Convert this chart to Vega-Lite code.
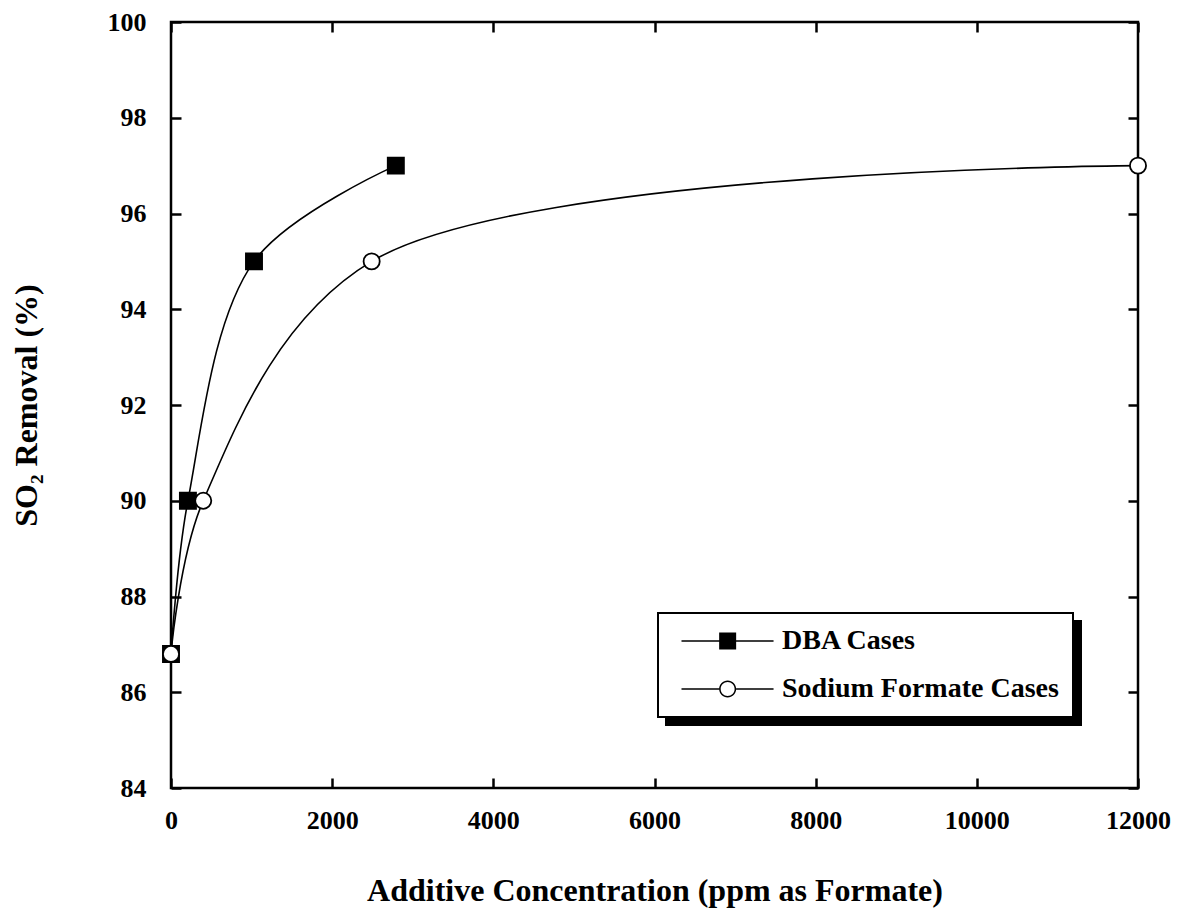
{
  "$schema": "https://vega.github.io/schema/vega-lite/v6.json",
  "autosize": "none",
  "width": 967,
  "height": 766,
  "padding": {"left": 171, "top": 22, "right": 44, "bottom": 123},
  "background": "white",
  "config": {
    "view": {"stroke": "black", "strokeWidth": 2.5},
    "legend": {"strokeWidth": 2},
    "axis": {
      "grid": false,
      "domain": false,
      "tickColor": "black",
      "tickWidth": 2.5,
      "tickSize": -10,
      "labelFont": "Liberation Serif",
      "labelFontWeight": "bold",
      "labelFontSize": 26,
      "labelColor": "black",
      "labelFlush": false,
      "titleFont": "Liberation Serif",
      "titleFontWeight": "bold",
      "titleFontSize": 32,
      "titleColor": "black"
    }
  },
  "data": {
    "values": [
      {"series": "DBA Cases", "ppm": 0, "removal": 86.8},
      {"series": "DBA Cases", "ppm": 210, "removal": 90},
      {"series": "DBA Cases", "ppm": 1030, "removal": 95},
      {"series": "DBA Cases", "ppm": 2790, "removal": 97},
      {"series": "Sodium Formate Cases", "ppm": 0, "removal": 86.8},
      {"series": "Sodium Formate Cases", "ppm": 400, "removal": 90},
      {"series": "Sodium Formate Cases", "ppm": 2490, "removal": 95},
      {"series": "Sodium Formate Cases", "ppm": 12000, "removal": 97}
    ]
  },
  "layer": [
    {
      "mark": {"type": "line", "interpolate": "catmull-rom", "strokeWidth": 1.6},
      "encoding": {
        "x": {
          "field": "ppm", "type": "quantitative",
          "scale": {"domain": [0, 12000], "nice": false, "zero": false},
          "axis": {"values": [0, 2000, 4000, 6000, 8000, 10000, 12000], "format": "d", "labelPadding": 29, "title": "Additive Concentration (ppm as Formate)", "titlePadding": 42}
        },
        "y": {
          "field": "removal", "type": "quantitative",
          "scale": {"domain": [84, 100], "nice": false, "zero": false},
          "axis": {"values": [84, 86, 88, 90, 92, 94, 96, 98, 100], "labelPadding": 35, "title": "SO₂ Removal (%)", "titlePadding": 64}
        },
        "color": {
          "field": "series", "type": "nominal",
          "scale": {"domain": ["DBA Cases", "Sodium Formate Cases"], "range": ["black", "black"]},
          "legend": {
            "orient": "none", "legendX": 495, "legendY": 599, "title": null, "zindex": 0,
            "fillColor": "black", "strokeColor": "black",
            "padding": 14, "symbolSize": 289, "labelOffset": 82, "rowPadding": 20, "labelLimit": 500,
            "labelFont": "Liberation Serif", "labelFontWeight": "bold", "labelFontSize": 28, "labelColor": "black",
            "symbolStrokeWidth": 1.5
          }
        }
      }
    },
    {
      "mark": {"type": "point", "filled": false, "strokeWidth": 1.8, "opacity": 1},
      "encoding": {
        "x": {"field": "ppm", "type": "quantitative", "axis": {"orient": "top", "labels": false, "title": null, "values": [0, 2000, 4000, 6000, 8000, 10000, 12000]}},
        "y": {"field": "removal", "type": "quantitative", "axis": {"orient": "right", "labels": false, "title": null, "values": [84, 86, 88, 90, 92, 94, 96, 98, 100]}},
        "shape": {
          "field": "series", "type": "nominal",
          "scale": {"range": ["square", "circle"]},
          "legend": null
        },
        "fill": {
          "field": "series", "type": "nominal",
          "scale": {"range": ["black", "white"]},
          "legend": null
        },
        "size": {"value": 260},
        "stroke": {"value": "black"}
      }
    },
    {
      "mark": {"type": "point", "filled": false, "strokeWidth": 1.5, "opacity": 0},
      "encoding": {
        "x": {"field": "ppm", "type": "quantitative", "axis": null},
        "y": {"field": "removal", "type": "quantitative", "axis": null},
        "shape": {
          "field": "series", "type": "nominal",
          "scale": {"range": [
            "M-0.53,-0.09H3.9V0.09H-0.53Z M5.9,-0.09H10.3V0.09H5.9Z M3.9,-1H5.9V1H3.9Z",
            "M-0.53,-0.09H3.9V0.09H-0.53Z M5.9,-0.09H10.3V0.09H5.9Z M5.9,0A1,1 0 1,1 3.9,0A1,1 0 1,1 5.9,0Z M5.72,0A0.82,0.82 0 1,0 4.08,0A0.82,0.82 0 1,0 5.72,0Z"
          ]},
          "legend": {
            "orient": "none", "legendX": 487, "legendY": 591, "title": null, "zindex": 1,
            "fillColor": "white", "strokeColor": "black",
            "padding": 14, "symbolSize": 289, "labelOffset": 82, "rowPadding": 20, "labelLimit": 500,
            "labelFont": "Liberation Serif", "labelFontWeight": "bold", "labelFontSize": 28, "labelColor": "black",
            "symbolStrokeWidth": 1.5, "symbolOpacity": 1, "symbolStrokeColor": "black"
          }
        },
        "fill": {
          "field": "series", "type": "nominal",
          "legend": null
        },
        "stroke": {"value": "black"}
      }
    }
  ],
  "resolve": {"axis": {"x": "independent", "y": "independent"}, "scale": {"shape": "independent"}}
}
